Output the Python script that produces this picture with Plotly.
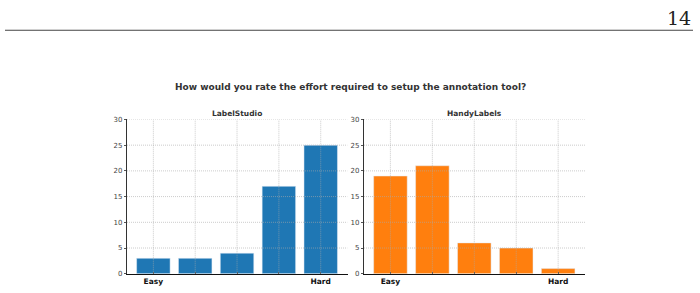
import plotly.graph_objects as go

categories = [1, 2, 3, 4, 5]
tick_text = ["Easy", "", "", "", "Hard"]
labelstudio = [3, 3, 4, 17, 25]
handylabels = [19, 21, 6, 5, 1]
y_ticks = [0, 5, 10, 15, 20, 25, 30]
title = "How would you rate the effort required to setup the annotation tool?"
subtitles = ["LabelStudio", "HandyLabels"]
colors = ["#1f77b4", "#ff7f0e"]
page_number = "14"

W, H = 700, 293
XR = [0.37, 5.64]
fig = go.Figure()
fig.add_trace(go.Bar(x=categories, y=labelstudio, marker_color=colors[0], width=0.8,
                     xaxis="x", yaxis="y", showlegend=False))
fig.add_trace(go.Bar(x=categories, y=handylabels, marker_color=colors[1], width=0.8,
                     xaxis="x2", yaxis="y2", showlegend=False))

ydom = [1 - 277.3 / H, 1 - 118.7 / H]
xdoms = [[127 / W, 347.5 / W], [364 / W, 585 / W]]

def xax(dom, anchor):
    return dict(domain=dom, anchor=anchor, range=XR, tickvals=categories,
                ticktext=tick_text, showgrid=False, showline=True, linecolor="#111",
                linewidth=1.3, ticks="inside", ticklen=2, tickcolor="#555",
                tickfont=dict(family="DejaVu Sans", size=7.5, color="#111", weight="bold"),
                zeroline=False, fixedrange=True, layer="above traces")

def yax(anchor):
    return dict(domain=ydom, anchor=anchor, range=[0, 30], tickvals=y_ticks,
                showgrid=False, showline=True, linecolor="#333", linewidth=1.3,
                ticks="outside", ticklen=2, tickcolor="#555",
                tickfont=dict(family="DejaVu Sans", size=7, color="#444"),
                zeroline=False, fixedrange=True, layer="above traces")

fig.update_layout(
    width=W, height=H, margin=dict(l=0, r=0, t=0, b=0),
    plot_bgcolor="white", paper_bgcolor="white",
    xaxis=xax(xdoms[0], "y"), yaxis=yax("x"),
    xaxis2=xax(xdoms[1], "y2"), yaxis2=yax("x2"),
)

grid = dict(color="rgba(170,170,170,0.75)", width=0.8, dash="1px,1px")
shapes = []
for xr, yr in (("x", "y"), ("x2", "y2")):
    for c in categories:
        shapes.append(dict(type="line", xref=xr, yref=yr, x0=c, x1=c, y0=y_ticks[0],
                           y1=y_ticks[-1], line=grid, layer="above"))
    for t in y_ticks[1:]:
        shapes.append(dict(type="line", xref=xr, yref=yr, x0=XR[0], x1=XR[1], y0=t, y1=t,
                           line=grid, layer="above"))
shapes.append(dict(type="line", xref="paper", yref="paper", x0=5 / W, x1=693 / W,
                   y0=1 - 27 / H, y1=1 - 27 / H, line=dict(color="#444", width=1.2)))
fig.update_layout(shapes=shapes)

annotations = [
    dict(text="<b>" + title + "</b>", x=0.5, y=1 - 85 / H, xref="paper", yref="paper",
         showarrow=False, font=dict(family="DejaVu Sans", size=9, color="#333"),
         xanchor="center", yanchor="middle"),
    dict(text=page_number, x=693 / W, y=1 - 14 / H, xref="paper", yref="paper", showarrow=False,
         font=dict(family="DejaVu Serif", size=19, color="#222"), xanchor="right", yanchor="middle"),
]
for i, st in enumerate(subtitles):
    annotations.append(dict(text="<b>" + st + "</b>", x=(xdoms[i][0] + xdoms[i][1]) / 2,
                            y=1 - 112.5 / H, xref="paper", yref="paper", showarrow=False,
                            font=dict(family="DejaVu Sans", size=7.5, color="#333"),
                            xanchor="center", yanchor="middle"))
fig.update_layout(annotations=annotations)

fig.write_html("out.html")
